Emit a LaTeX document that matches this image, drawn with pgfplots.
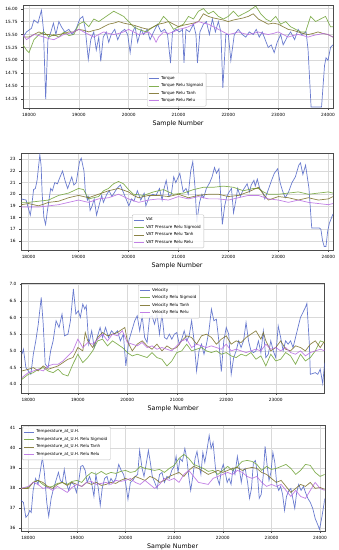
\documentclass[border=0pt]{standalone}
\usepackage{fontspec}
\setmainfont{DejaVu Sans}
\usepackage{pgfplots}
\pgfplotsset{compat=1.18}
\definecolor{cblue}{RGB}{85,105,200}
\definecolor{csig}{RGB}{115,165,60}
\definecolor{ctanh}{RGB}{125,115,45}
\definecolor{crelu}{RGB}{185,110,225}
\pgfplotsset{
  base/.style={
    scale only axis,
    axis line style={draw=black!70, line width=0.4pt},
    grid=major,
    grid style={draw=black!15, line width=0.35pt},
    tick style={draw=black!70},
    tick align=outside,
    xtick pos=lower, ytick pos=left,
    major tick length=1.8pt,
    tick label style={font=\fontsize{4.3}{5}\selectfont},
    /pgf/number format/assume math mode=true,
    /pgf/number format/set thousands separator={},
    scaled ticks=false,
    xlabel={Sample Number},
    xlabel style={font=\fontsize{6.3}{7}\selectfont, yshift=3pt},
    legend cell align=left,
    legend style={font=\fontsize{4.1}{4.6}\selectfont, draw=black!25, rounded corners=1pt, fill=white, fill opacity=0.85, text opacity=1, inner sep=1.2pt, row sep=-1.2pt},
    legend image code/.code={\draw[##1] (0pt,0pt) -- (10pt,0pt);},
    every axis plot/.append style={line width=0.7pt, opacity=0.88},
    xtick distance=1000,
  }
}
\begin{document}
\begin{tikzpicture}
\path[use as bounding box] (0pt,0pt) rectangle (339pt,-550pt);
% ---------------- Panel 1: Torque
\begin{axis}[base, at={(23pt,-5pt)}, anchor=north west, width=310pt, height=103pt,
  xmin=17880, xmax=24100, ymin=14.08, ymax=16.07,
  ytick={14.25,14.5,...,16.0},
  yticklabel style={/pgf/number format/fixed, /pgf/number format/fixed zerofill, /pgf/number format/precision=2},
  legend style={at={(0.4,0.015)}, anchor=south west}]
\addplot[cblue] coordinates {(17880,15.45)(17950,15.55)(18050,15.62)(18100,15.78)(18180,15.72)(18250,15.97)(18290,15.6)(18335,14.25)(18380,15.4)(18440,15.55)(18490,15.72)(18540,15.5)(18600,15.75)(18650,15.65)(18720,15.55)(18800,15.6)(18870,15.5)(18950,15.62)(19020,15.8)(19080,15.85)(19130,15.6)(19190,15.02)(19240,15.4)(19300,15.55)(19350,15.2)(19400,15.45)(19440,14.98)(19490,15.45)(19550,15.55)(19600,15.35)(19650,15.5)(19720,15.6)(19780,15.4)(19850,15.55)(19920,15.6)(19980,15.5)(20030,15.15)(20080,15.55)(20130,15.65)(20180,15.35)(20250,15.6)(20300,15.5)(20370,15.6)(20430,15.4)(20500,15.55)(20580,15.7)(20650,15.55)(20720,15.6)(20780,15.5)(20840,14.95)(20880,15.55)(20950,15.6)(21020,15.55)(21080,15.6)(21110,14.95)(21150,15.6)(21220,15.55)(21300,15.7)(21350,15.5)(21380,14.95)(21430,15.55)(21500,15.7)(21560,15.75)(21620,15.5)(21680,15.8)(21740,15.55)(21800,15.75)(21850,15.55)(21890,14.47)(21950,15.5)(22000,15.5)(22050,15.0)(22120,15.5)(22200,15.6)(22280,15.5)(22350,15.45)(22420,15.55)(22500,15.5)(22560,15.6)(22620,15.45)(22680,15.55)(22740,15.4)(22800,15.25)(22860,15.3)(22920,15.15)(22980,15.35)(23050,15.5)(23100,15.3)(23180,15.45)(23250,15.55)(23330,15.4)(23400,15.6)(23470,15.5)(23560,15.55)(23600,15.2)(23660,14.1)(23870,14.1)(23930,14.9)(23960,15.05)(24000,15.0)(24050,15.25)(24100,15.3)};
\addlegendentry{Torque}
\addplot[csig] coordinates {(17880,15.3)(17950,15.2)(18000,15.15)(18100,15.4)(18200,15.5)(18300,15.55)(18400,15.45)(18500,15.5)(18600,15.45)(18700,15.55)(18800,15.48)(18900,15.5)(19000,15.7)(19100,15.75)(19200,15.65)(19300,15.8)(19400,15.75)(19550,15.85)(19700,15.95)(19800,15.9)(19900,15.85)(20000,15.75)(20100,15.65)(20200,15.6)(20350,15.55)(20500,15.65)(20600,15.7)(20700,15.85)(20800,15.75)(20900,15.6)(21000,15.65)(21100,15.7)(21200,15.85)(21300,15.8)(21400,15.95)(21500,16.0)(21600,15.9)(21700,15.95)(21800,15.85)(21900,15.8)(22000,15.85)(22100,15.95)(22200,15.85)(22300,15.9)(22400,15.95)(22550,16.05)(22650,15.9)(22750,15.8)(22850,15.75)(22950,15.85)(23050,15.7)(23150,15.75)(23250,15.65)(23350,15.6)(23450,15.55)(23550,15.55)(23650,15.85)(23750,15.75)(23850,15.8)(23950,15.85)(24050,15.65)(24100,15.65)};
\addlegendentry{Torque Relu Sigmoid}
\addplot[ctanh] coordinates {(17880,15.45)(18000,15.45)(18100,15.5)(18200,15.55)(18300,15.5)(18400,15.5)(18500,15.48)(18600,15.5)(18700,15.52)(18800,15.55)(18900,15.55)(19000,15.6)(19100,15.58)(19200,15.55)(19300,15.58)(19400,15.6)(19500,15.65)(19600,15.7)(19700,15.72)(19800,15.75)(19900,15.72)(20000,15.7)(20100,15.68)(20200,15.65)(20300,15.62)(20400,15.6)(20500,15.65)(20600,15.7)(20700,15.72)(20800,15.75)(20900,15.7)(21000,15.65)(21100,15.68)(21200,15.7)(21300,15.72)(21400,15.75)(21500,15.9)(21600,15.85)(21700,15.82)(21800,15.8)(21900,15.78)(22000,15.75)(22100,15.78)(22200,15.8)(22300,15.82)(22400,15.85)(22500,15.9)(22600,15.8)(22700,15.75)(22800,15.7)(22900,15.72)(23000,15.7)(23100,15.65)(23200,15.6)(23300,15.58)(23400,15.55)(23500,15.52)(23600,15.5)(23700,15.52)(23800,15.55)(23900,15.52)(24000,15.5)(24100,15.45)};
\addlegendentry{Torque Relu Tanh}
\addplot[crelu] coordinates {(17880,15.5)(17950,15.4)(18100,15.5)(18200,15.48)(18300,15.45)(18400,15.42)(18500,15.4)(18600,15.45)(18700,15.5)(18800,15.52)(18900,15.55)(19000,15.6)(19100,15.55)(19200,15.5)(19300,15.45)(19400,15.5)(19500,15.55)(19600,15.52)(19700,15.5)(19800,15.52)(19900,15.55)(20000,15.6)(20100,15.55)(20200,15.5)(20300,15.52)(20400,15.55)(20500,15.45)(20550,15.35)(20600,15.45)(20700,15.55)(20800,15.52)(20900,15.55)(21000,15.6)(21100,15.62)(21200,15.65)(21300,15.7)(21400,15.75)(21500,15.72)(21600,15.7)(21700,15.65)(21800,15.6)(21900,15.55)(22000,15.5)(22100,15.52)(22200,15.55)(22300,15.52)(22400,15.5)(22500,15.52)(22600,15.55)(22700,15.52)(22800,15.5)(22900,15.52)(23000,15.55)(23100,15.5)(23200,15.45)(23300,15.48)(23400,15.5)(23500,15.48)(23600,15.45)(23700,15.48)(23800,15.5)(23900,15.52)(24000,15.5)(24100,15.45)};
\addlegendentry{Torque Relu Relu}
\end{axis}
% ---------------- Panel 2: VAT
\begin{axis}[base, at={(21pt,-153pt)}, anchor=north west, width=312pt, height=97pt,
  xmin=17848, xmax=24093, ymin=15.2, ymax=23.55,
  ytick={16,17,...,23},
  legend style={at={(0.356,0.02)}, anchor=south west}]
\addplot[cblue] coordinates {(17850,19.6)(17950,19.5)(18034,18.2)(18068,19.2)(18100,20.4)(18136,20.5)(18170,21.2)(18225,23.4)(18250,22.5)(18272,20.0)(18306,18.0)(18340,17.4)(18374,18.5)(18408,19.5)(18442,20.5)(18476,20.3)(18524,21.0)(18578,20.9)(18612,21.3)(18680,22.0)(18728,21.2)(18782,20.5)(18864,21.5)(18905,20.8)(18952,21.0)(19020,22.8)(19054,23.1)(19109,22.0)(19136,20.2)(19177,19.5)(19204,19.8)(19231,18.6)(19272,19.0)(19313,19.6)(19360,18.2)(19408,19.0)(19463,19.9)(19497,19.3)(19565,20.0)(19612,20.3)(19667,19.8)(19769,20.5)(19837,20.8)(19884,20.3)(20007,19.0)(20061,19.6)(20109,19.4)(20177,20.3)(20245,19.5)(20313,20.1)(20347,19.0)(20415,19.8)(20483,20.0)(20551,19.9)(20619,20.5)(20673,19.5)(20700,20.3)(20755,21.2)(20809,19.8)(20857,20.0)(20905,21.5)(20946,21.0)(21027,21.8)(21095,20.2)(21150,20.5)(21197,20.0)(21245,22.0)(21286,22.8)(21333,20.5)(21367,17.6)(21422,19.3)(21469,20.0)(21503,19.7)(21558,20.5)(21626,21.0)(21673,21.5)(21721,22.3)(21762,21.8)(21810,22.2)(21844,20.0)(21878,17.4)(21925,19.0)(21966,19.8)(22014,20.2)(22061,20.5)(22102,18.4)(22150,19.5)(22184,20.5)(22238,19.8)(22286,20.3)(22374,20.9)(22422,20.2)(22456,20.8)(22510,21.2)(22537,20.7)(22578,21.3)(22626,20.5)(22694,20.1)(22728,19.6)(22782,20.2)(22864,21.2)(22918,21.8)(22986,22.2)(23034,21.0)(23082,20.3)(23136,19.7)(23204,20.2)(23272,21.0)(23340,21.5)(23408,22.5)(23442,22.7)(23490,21.7)(23544,22.5)(23612,20.5)(23667,17.1)(23816,17.1)(23850,17.0)(23884,16.0)(23918,15.5)(23952,15.5)(23986,16.8)(24020,17.5)(24093,18.3)};
\addlegendentry{Vat}
\addplot[csig] coordinates {(17850,19.3)(18000,19.3)(18100,19.35)(18200,19.4)(18300,19.45)(18400,19.5)(18500,19.7)(18600,19.9)(18700,20.0)(18800,20.1)(18900,20.3)(19000,20.5)(19100,20.4)(19200,19.6)(19300,19.7)(19400,19.8)(19500,20.3)(19600,20.5)(19700,20.9)(19800,21.1)(19900,20.9)(20000,20.4)(20100,20.0)(20200,19.95)(20300,19.9)(20400,20.05)(20500,20.2)(20600,20.3)(20700,20.4)(20800,20.2)(20900,20.0)(21000,20.05)(21100,20.1)(21200,20.25)(21300,20.4)(21400,20.5)(21500,20.6)(21600,20.6)(21700,20.6)(21800,20.65)(21900,20.7)(22000,20.65)(22100,20.6)(22200,20.45)(22300,20.3)(22400,20.4)(22500,20.5)(22600,20.5)(22700,20.2)(22800,20.0)(22900,20.0)(23000,20.0)(23100,20.05)(23200,20.1)(23300,20.15)(23400,20.2)(23500,20.1)(23600,20.0)(23700,20.05)(23800,20.1)(23900,20.15)(24000,20.2)(24093,20.1)};
\addlegendentry{VAT Pressure Relu Sigmoid}
\addplot[ctanh] coordinates {(17850,19.1)(18000,19.2)(18100,19.1)(18200,19.0)(18300,19.15)(18400,19.3)(18500,19.35)(18600,19.4)(18700,19.55)(18800,19.7)(18900,19.8)(19000,19.9)(19100,19.8)(19200,19.7)(19300,19.85)(19400,20.0)(19500,20.15)(19600,20.3)(19700,20.4)(19800,20.5)(19900,20.35)(20000,20.2)(20100,19.9)(20200,19.7)(20300,19.8)(20400,19.9)(20500,19.9)(20600,19.9)(20700,19.85)(20800,19.8)(20900,19.9)(21000,20.0)(21100,19.85)(21200,19.7)(21300,19.8)(21400,19.9)(21500,19.95)(21600,20.0)(21700,20.0)(21800,20.0)(21900,19.9)(22000,19.8)(22100,19.85)(22200,19.9)(22300,20.05)(22400,20.2)(22500,20.4)(22600,20.6)(22700,20.0)(22800,19.5)(22900,19.65)(23000,19.8)(23100,19.75)(23200,19.7)(23300,19.6)(23400,19.5)(23500,19.6)(23600,19.7)(23700,19.6)(23800,19.5)(23900,19.55)(24000,19.6)(24093,19.8)};
\addlegendentry{VAT Pressure Relu Tanh}
\addplot[crelu] coordinates {(17850,18.9)(18000,18.9)(18100,18.9)(18200,18.9)(18300,18.95)(18400,19.0)(18500,19.05)(18600,19.1)(18700,19.2)(18800,19.3)(18900,19.4)(19000,19.5)(19100,19.4)(19200,19.3)(19300,19.45)(19400,19.6)(19500,19.65)(19600,19.7)(19700,19.85)(19800,20.0)(19900,19.8)(20000,19.6)(20100,19.45)(20200,19.3)(20300,19.4)(20400,19.5)(20500,19.55)(20600,19.6)(20700,19.55)(20800,19.5)(20900,19.65)(21000,19.8)(21100,19.7)(21200,19.6)(21300,19.7)(21400,19.8)(21500,19.7)(21600,19.6)(21700,19.6)(21800,19.6)(21900,19.55)(22000,19.5)(22100,19.6)(22200,19.7)(22300,19.8)(22400,19.9)(22500,19.9)(22600,19.9)(22700,19.75)(22800,19.6)(22900,19.55)(23000,19.5)(23100,19.4)(23200,19.3)(23300,19.4)(23400,19.5)(23500,19.4)(23600,19.3)(23700,19.25)(23800,19.2)(23900,19.15)(24000,19.1)(24093,19.2)};
\addlegendentry{VAT Pressure Relu Relu}
\end{axis}
% ---------------- Panel 3: Velocity
\begin{axis}[base, at={(21.7pt,-283pt)}, anchor=north west, width=303pt, height=110pt,
  xmin=17865, xmax=23990, ymin=3.74, ymax=7.03,
  ytick={4.0,4.5,...,7.0},
  yticklabel style={/pgf/number format/fixed, /pgf/number format/fixed zerofill, /pgf/number format/precision=1},
  legend style={at={(0.384,0.985)}, anchor=north west}]
\addplot[cblue] coordinates {(17870,4.9)(17900,5.05)(17950,4.5)(18000,4.4)(18050,4.3)(18100,4.9)(18150,5.3)(18200,5.8)(18260,6.6)(18300,5.8)(18340,4.6)(18400,4.5)(18450,5.0)(18500,5.3)(18560,5.9)(18620,5.7)(18680,6.1)(18730,5.45)(18800,5.5)(18850,5.9)(18910,6.85)(18960,6.1)(19010,6.2)(19050,6.0)(19100,6.4)(19140,6.25)(19170,6.35)(19220,5.2)(19280,5.6)(19330,5.1)(19400,5.45)(19450,5.7)(19500,5.4)(19560,5.7)(19620,5.4)(19680,5.6)(19740,5.5)(19800,5.6)(19860,5.3)(19920,5.5)(19970,4.55)(20030,5.3)(20090,5.6)(20150,5.9)(20200,6.05)(20250,5.6)(20300,6.05)(20350,5.4)(20400,5.25)(20450,6.0)(20500,6.05)(20550,5.8)(20600,6.1)(20650,5.5)(20700,6.1)(20750,5.4)(20800,5.35)(20850,5.5)(20900,5.35)(20950,5.5)(21000,5.55)(21050,5.2)(21100,5.35)(21150,5.6)(21200,5.3)(21250,5.45)(21300,5.9)(21350,5.3)(21400,4.4)(21450,5.0)(21500,5.2)(21550,4.9)(21600,5.2)(21650,5.6)(21700,6.25)(21750,5.9)(21800,5.95)(21850,5.3)(21900,4.38)(21950,5.3)(22000,5.7)(22050,5.5)(22100,4.3)(22150,4.8)(22200,5.0)(22250,5.3)(22300,5.1)(22350,5.3)(22400,5.85)(22450,5.3)(22500,5.0)(22550,4.95)(22600,5.0)(22650,5.3)(22700,4.95)(22750,5.6)(22800,4.8)(22850,4.9)(22900,5.3)(22950,5.0)(23000,4.8)(23050,5.75)(23100,5.4)(23150,5.0)(23200,5.3)(23250,5.2)(23300,5.3)(23350,5.1)(23400,5.4)(23450,5.7)(23500,6.0)(23550,6.15)(23600,6.3)(23630,6.42)(23680,5.2)(23700,4.3)(23800,4.35)(23850,4.3)(23900,4.45)(23950,4.02)(23990,4.65)};
\addlegendentry{Velocity}
\addplot[csig] coordinates {(17870,4.15)(18000,4.3)(18100,4.35)(18200,4.45)(18300,4.5)(18400,4.4)(18500,4.35)(18600,4.45)(18700,4.3)(18800,4.25)(18900,4.6)(19000,4.9)(19100,4.65)(19200,4.8)(19300,5.0)(19400,5.3)(19500,5.35)(19600,5.15)(19700,5.3)(19800,5.2)(19900,5.1)(20000,4.95)(20100,4.85)(20200,4.9)(20300,4.85)(20400,4.8)(20500,4.95)(20600,4.8)(20700,4.75)(20800,4.55)(20900,4.7)(21000,4.95)(21100,5.0)(21200,5.2)(21300,5.0)(21400,5.05)(21500,5.1)(21600,5.0)(21700,4.95)(21800,5.0)(21900,4.9)(22000,4.95)(22100,4.85)(22200,4.8)(22300,4.9)(22400,4.85)(22500,4.95)(22600,4.75)(22700,4.85)(22800,4.55)(22900,4.9)(23000,4.7)(23100,4.75)(23200,4.95)(23300,4.85)(23400,4.6)(23500,4.9)(23600,4.7)(23700,4.8)(23800,5.0)(23900,5.3)(23990,5.25)};
\addlegendentry{Velocity Relu Sigmoid}
\addplot[ctanh] coordinates {(17870,4.4)(18000,4.45)(18100,4.5)(18200,4.4)(18300,4.55)(18400,4.45)(18500,4.5)(18600,4.55)(18700,4.65)(18800,4.75)(18900,4.8)(19000,5.1)(19100,5.0)(19150,5.55)(19200,5.3)(19300,5.1)(19400,5.4)(19500,5.55)(19600,5.45)(19700,5.5)(19800,5.55)(19900,5.65)(19950,5.7)(20000,5.3)(20100,5.0)(20200,5.2)(20300,5.3)(20400,5.15)(20500,5.05)(20600,5.2)(20700,5.0)(20800,5.15)(20900,5.05)(21000,5.1)(21100,5.3)(21200,5.45)(21300,5.4)(21400,5.2)(21500,5.45)(21600,5.5)(21700,5.4)(21800,5.2)(21900,5.35)(22000,5.45)(22100,5.2)(22200,5.3)(22300,5.25)(22400,5.4)(22500,5.5)(22600,5.6)(22700,5.35)(22750,5.55)(22800,5.3)(22900,5.0)(23000,5.1)(23100,5.3)(23200,5.05)(23300,5.0)(23400,5.15)(23500,5.1)(23600,5.0)(23700,5.2)(23800,5.3)(23900,5.1)(23990,5.3)};
\addlegendentry{Velocity Relu Tanh}
\addplot[crelu] coordinates {(17870,4.2)(18000,4.35)(18100,4.4)(18200,4.45)(18300,4.4)(18400,4.55)(18500,4.6)(18600,4.6)(18700,4.7)(18800,4.85)(18900,5.0)(19000,5.35)(19100,5.1)(19200,5.25)(19300,5.2)(19400,5.35)(19500,5.5)(19600,5.3)(19700,5.5)(19800,5.45)(19900,5.6)(20000,5.25)(20100,5.2)(20200,5.15)(20300,5.25)(20400,5.1)(20500,5.15)(20600,5.05)(20700,5.1)(20800,5.05)(20900,5.0)(21000,5.15)(21100,5.3)(21200,5.35)(21300,5.1)(21400,5.2)(21500,5.15)(21600,5.1)(21700,5.15)(21800,5.1)(21900,5.05)(22000,5.2)(22100,5.0)(22200,5.05)(22300,5.0)(22400,4.95)(22500,5.0)(22600,5.05)(22700,5.0)(22800,5.2)(22900,5.05)(23000,5.1)(23100,5.0)(23200,5.1)(23300,4.95)(23400,4.9)(23500,5.0)(23600,4.85)(23700,4.95)(23800,5.0)(23900,5.05)(23990,5.0)};
\addlegendentry{Velocity Relu Relu}
\end{axis}
% ---------------- Panel 4: Temperature
\begin{axis}[base, at={(20.7pt,-425pt)}, anchor=north west, width=304pt, height=106pt,
  xmin=17844, xmax=24096, ymin=35.87, ymax=41.17,
  ytick={36,37,...,41},
  legend style={at={(0.005,0.985)}, anchor=north west}]
\addplot[cblue] coordinates {(17850,37.4)(17900,37.3)(17950,36.55)(18000,36.7)(18030,36.9)(18060,36.8)(18100,37.9)(18150,38.5)(18200,38.2)(18250,38.9)(18290,39.55)(18330,38.8)(18380,37.3)(18420,36.6)(18470,37.5)(18520,38.0)(18570,38.4)(18620,38.8)(18660,38.4)(18700,38.3)(18740,38.95)(18780,38.3)(18830,37.9)(18880,38.3)(18940,38.2)(18990,37.8)(19040,38.4)(19080,39.1)(19120,39.15)(19170,38.9)(19210,38.3)(19260,38.6)(19300,38.3)(19350,37.6)(19390,38.7)(19440,38.0)(19480,37.15)(19520,38.0)(19570,38.5)(19620,38.6)(19660,38.2)(19700,38.5)(19750,38.3)(19800,38.5)(19860,39.2)(19910,38.9)(19960,38.7)(20000,38.3)(20050,37.45)(20100,38.3)(20150,38.4)(20200,38.6)(20250,38.7)(20290,39.9)(20340,39.0)(20380,38.6)(20430,39.3)(20470,39.9)(20510,39.3)(20550,38.6)(20600,38.3)(20650,38.0)(20700,38.7)(20750,38.8)(20800,38.3)(20850,38.6)(20900,38.5)(20950,38.9)(21000,39.1)(21040,39.6)(21080,38.8)(21120,39.5)(21170,39.35)(21220,40.0)(21260,39.5)(21300,38.6)(21340,37.9)(21390,38.7)(21430,39.5)(21470,39.85)(21510,39.2)(21550,38.7)(21590,39.8)(21630,39.3)(21680,40.0)(21720,40.65)(21760,40.0)(21800,40.3)(21850,39.0)(21890,38.5)(21930,38.2)(21970,38.9)(22010,39.2)(22050,38.8)(22090,38.3)(22130,38.5)(22170,38.2)(22210,39.0)(22250,38.7)(22300,39.6)(22340,39.0)(22380,38.3)(22420,38.9)(22460,39.0)(22510,38.3)(22550,37.5)(22590,38.0)(22630,39.3)(22670,39.4)(22710,38.8)(22750,37.5)(22790,37.7)(22830,38.6)(22870,40.1)(22910,39.2)(22950,38.4)(22990,38.8)(23030,39.8)(23070,39.3)(23110,38.2)(23150,37.9)(23190,38.1)(23230,37.7)(23270,36.9)(23310,37.6)(23360,37.9)(23400,38.0)(23440,37.5)(23480,37.0)(23520,37.8)(23560,38.2)(23610,37.9)(23660,38.1)(23700,37.8)(23750,37.5)(23800,37.3)(23850,37.0)(23900,36.5)(23950,36.2)(23990,35.95)(24040,36.6)(24080,37.2)(24096,37.5)};
\addlegendentry{Temperature\_at\_U.H.}
\addplot[csig] coordinates {(17850,38.0)(18000,38.05)(18100,38.3)(18200,38.4)(18300,38.2)(18400,38.05)(18500,38.1)(18600,38.25)(18700,38.3)(18800,38.2)(18900,38.35)(19000,38.4)(19100,38.3)(19200,38.6)(19300,38.8)(19400,38.7)(19500,38.85)(19600,38.7)(19700,38.8)(19800,38.75)(19900,38.85)(20000,38.9)(20100,38.8)(20200,38.85)(20300,39.1)(20400,39.0)(20500,38.95)(20600,38.9)(20700,38.95)(20800,38.8)(20900,39.0)(21000,39.15)(21100,39.5)(21200,39.7)(21300,39.5)(21400,39.2)(21500,39.1)(21600,39.0)(21700,38.85)(21800,38.9)(21900,38.7)(22000,38.9)(22100,39.1)(22200,38.9)(22300,39.1)(22400,39.35)(22500,39.4)(22600,39.35)(22700,39.2)(22800,38.9)(22900,39.1)(23000,38.95)(23100,39.0)(23200,39.1)(23300,39.2)(23400,39.0)(23500,38.7)(23600,38.9)(23700,39.2)(23800,39.15)(23900,38.8)(24000,38.6)(24096,38.7)};
\addlegendentry{Temperature\_at\_U.H. Relu Sigmoid}
\addplot[ctanh] coordinates {(17850,38.0)(18000,38.0)(18100,38.3)(18200,38.4)(18300,38.3)(18400,38.1)(18500,38.0)(18600,38.2)(18700,38.3)(18800,38.15)(18900,38.3)(19000,38.2)(19100,38.1)(19200,38.3)(19300,38.2)(19400,38.3)(19500,38.15)(19600,38.2)(19700,38.3)(19800,38.25)(19900,38.4)(20000,38.5)(20100,38.4)(20200,38.6)(20300,38.5)(20400,38.4)(20500,38.6)(20600,38.5)(20700,38.3)(20800,38.4)(20900,38.6)(21000,38.7)(21100,38.8)(21200,38.6)(21300,38.9)(21400,39.1)(21500,39.0)(21600,38.85)(21700,38.7)(21800,38.8)(21900,38.9)(22000,38.8)(22100,38.9)(22200,39.0)(22300,39.05)(22400,38.9)(22500,39.0)(22600,39.05)(22700,39.0)(22800,38.8)(22900,38.7)(23000,38.5)(23100,38.3)(23200,38.4)(23300,38.1)(23400,37.8)(23500,38.0)(23600,38.2)(23700,38.1)(23800,38.3)(23900,38.0)(24000,38.05)(24096,37.95)};
\addlegendentry{Temperature\_at\_U.H. Relu Tanh}
\addplot[crelu] coordinates {(17850,38.0)(18000,38.1)(18100,38.3)(18200,38.2)(18300,38.0)(18400,38.05)(18500,37.9)(18600,38.1)(18700,37.95)(18800,37.8)(18900,38.05)(19000,38.2)(19100,38.1)(19200,38.3)(19300,38.35)(19400,38.2)(19500,38.25)(19600,38.3)(19700,38.2)(19800,38.4)(19900,38.35)(20000,38.4)(20100,38.5)(20200,38.3)(20300,38.2)(20400,38.4)(20500,38.2)(20600,38.0)(20700,38.2)(20800,38.5)(20900,38.4)(21000,38.5)(21100,38.3)(21200,38.7)(21300,38.9)(21400,38.6)(21500,38.3)(21600,38.25)(21700,38.2)(21800,38.5)(21900,38.6)(22000,38.7)(22100,38.8)(22200,38.7)(22300,38.9)(22400,38.8)(22500,38.6)(22600,38.5)(22700,38.6)(22800,38.3)(22900,38.1)(23000,38.2)(23100,38.1)(23200,38.2)(23300,37.9)(23400,37.6)(23500,37.9)(23600,37.6)(23700,37.5)(23800,37.9)(23900,38.3)(24000,38.0)(24096,37.9)};
\addlegendentry{Temperature\_at\_U.H. Relu Relu}
\end{axis}
\end{tikzpicture}
\end{document}
